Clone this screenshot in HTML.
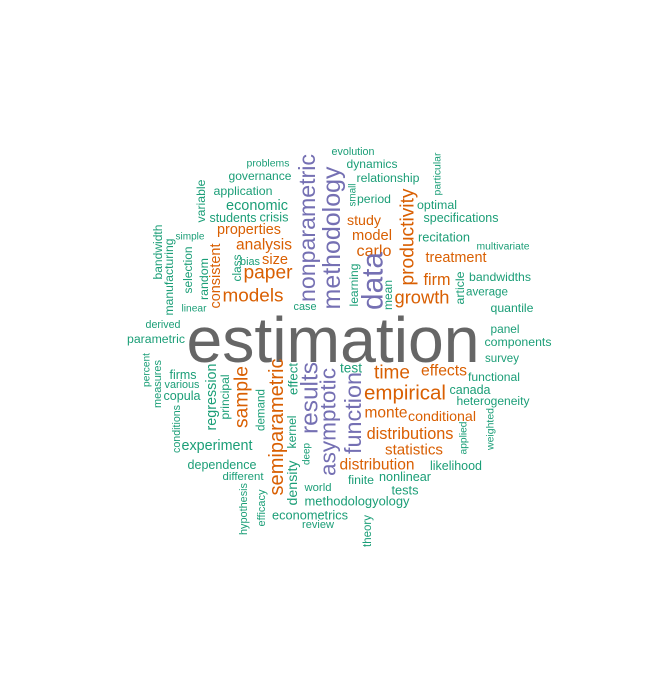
<!DOCTYPE html>
<html><head><meta charset="utf-8"><style>
html,body{margin:0;padding:0;background:#fff;}
svg text{font-family:"Liberation Sans",Arial,sans-serif;}
</style></head><body>
<svg id="cloud" width="672" height="672" viewBox="0 0 672 672" xmlns="http://www.w3.org/2000/svg">
<rect width="672" height="672" fill="#fff"/>
</svg>
<script>
const words = ["estimation","problems","governance","application","variable","economic","students","crisis","properties","analysis","size","paper","models","consistent","random","class","bias","selection","simple","bandwidth","manufacturing","linear","derived","parametric","case","nonparametric","methodology",
"evolution","dynamics","relationship","small","period","productivity","particular","optimal","specifications","study","model","recitation","multivariate","carlo","treatment","data","learning","mean","firm","growth","article","bandwidths","average","quantile","panel","components",
"percent","measures","firms","various","copula","conditions","regression","principal","sample","demand","semiparametric","effect","results","asymptotic","kernel","experiment","deep","dependence","different","density","world","hypothesis","efficacy","econometrics","review",
"survey","test","time","effects","functional","canada","empirical","heterogeneity","function","monte","conditional","applied","weighted","distributions","statistics","distribution","likelihood","finite","nonlinear","tests","methodologyology","theory"];
const cxs = [333,268,260,243,201,257,233,274,249,264,275,268,253,216,204,237,250,188,190,158,169,194,163,156,305,307,332,
353,372,388,353,374,408,438,437,461,364,372,444,503,374,456,373,354,388,437,422,460,500,487,512,505,518,
147,158,183,182,182,177,212,225,242,261,277,293,310,328,292,217,307,222,243,293,318,244,262,310,318,
502,351,392,444,494,470,405,493,353,386,442,464,491,410,414,377,456,361,405,405,357,368];
const cys = [340,164,176,191,201,206,218,217,230,245,260,273,296,276,279,268,262,270,237,252,277,309,325,339,307,228,238,
152,164,178,195,199,237,174,205,218,221,236,237,247,251,258,281,285,295,280,297,288,277,292,308,329,342,
370,384,375,385,396,429,397,397,397,410,427,379,398,422,432,446,454,465,477,483,488,509,508,515,525,
359,368,373,371,377,390,393,401,413,413,417,438,429,434,450,465,466,480,477,490,501,531];
const widths = [293,43,63,59,43,62,47,29,64,56,26,49,61,65,42,27,20,47,29,55,77,25,35,58,23,148,143,
43,51,63,23,34,97,43,40,75,34,40,52,53,35,61,58,43,30,27,55,33,62,42,43,29,67,
34,48,27,35,37,48,67,45,62,42,137,32,72,108,33,71,22,69,41,45,27,52,37,76,32,
34,22,36,46,52,41,82,73,82,43,68,33,42,87,58,75,52,26,52,27,105,32];
const vertical = ["variable","consistent","random","class","selection","bandwidth","manufacturing","nonparametric","methodology","small","productivity","particular","data","learning","mean","article","percent","measures","conditions","regression","principal","sample","demand","semiparametric","effect","results","asymptotic","kernel","deep","density","hypothesis","efficacy","function","applied","weighted","theory"];
const orangeWords = ["properties","analysis","size","paper","models","consistent","study","model","carlo","treatment","firm","growth","productivity","sample","semiparametric","time","effects","empirical","monte","conditional","distributions","statistics","distribution"];
const purpleWords = ["nonparametric","methodology","data","results","asymptotic","function"];

const svg = document.getElementById('cloud');
const NS = 'http://www.w3.org/2000/svg';
for (let i = 0; i < words.length; i++) {
  const w = words[i];
  const g = document.createElementNS(NS, 'g');
  const rot = vertical.includes(w) ? -90 : 0;
  g.setAttribute('transform', 'translate(' + cxs[i] + ',' + cys[i] + ') rotate(' + rot + ')');
  const t = document.createElementNS(NS, 'text');
  
  
  t.setAttribute('text-anchor', 'middle');
  t.setAttribute('dominant-baseline', 'central');
  let col = '#1B9E77';
  if (w === 'estimation') col = '#666666';
  else if (purpleWords.includes(w)) col = '#7570B3';
  else if (orangeWords.includes(w)) col = '#D95F02';
  t.setAttribute('fill', col);
  t.setAttribute('font-size', '10');
  t.textContent = w;
  g.appendChild(t);
  svg.appendChild(g);
  const len = t.getComputedTextLength() || 1;
  const fs = 10 * widths[i] / len;
  t.setAttribute('font-size', fs.toFixed(2));
}
</script>
</body></html>
